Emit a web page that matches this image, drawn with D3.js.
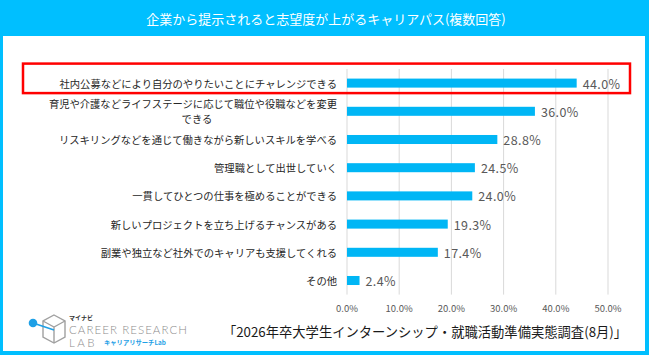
<!DOCTYPE html>
<html><head><meta charset="utf-8">
<script src="https://cdn.jsdelivr.net/npm/d3@7"></script>
<style>
html,body{margin:0;padding:0;background:#fff;}
svg{display:block;font-family:"Noto Sans CJK JP","Noto Sans",sans-serif;}
</style></head>
<body>
<svg id="chart" width="650" height="357"></svg>
<script>
const title = "企業から提示されると志望度が上がるキャリアパス(複数回答)";
const categories = [
  "社内公募などにより自分のやりたいことにチャレンジできる",
  "育児や介護などライフステージに応じて職位や役職などを変更\nできる",
  "リスキリングなどを通じて働きながら新しいスキルを学べる",
  "管理職として出世していく",
  "一貫してひとつの仕事を極めることができる",
  "新しいプロジェクトを立ち上げるチャンスがある",
  "副業や独立など社外でのキャリアも支援してくれる",
  "その他"
];
const values = [44.0, 36.0, 28.8, 24.5, 24.0, 19.3, 17.4, 2.4];
const tickValues = [0, 10, 20, 30, 40, 50];
const highlighted = ["社内公募などにより自分のやりたいことにチャレンジできる"];
const source = "「2026年卒大学生インターンシップ・就職活動準備実態調査(8月)」";

const svg = d3.select("#chart");
const frame = "#00BFFF", barColor = "#00B6F5";

// frame + title band
svg.append("rect").attr("x",0).attr("y",0).attr("width",649).attr("height",355).attr("fill",frame);
svg.append("rect").attr("x",3).attr("y",36).attr("width",642).attr("height",315).attr("fill","#fff");
svg.append("text").attr("x",326).attr("y",18.5).attr("text-anchor","middle").attr("dominant-baseline","central")
  .attr("fill","#fff").attr("font-size",13).text(title);

const x = d3.scaleLinear().domain([0,50]).range([347,608]);
const y = d3.scaleBand().domain(categories).range([69,294.6]).paddingInner(0.68).paddingOuter(0.34);

// gridlines
svg.append("g").selectAll("line").data(tickValues).join("line")
  .attr("x1",d=>x(d)).attr("x2",d=>x(d)).attr("y1",69).attr("y2",294.6)
  .attr("stroke","#d9d9d9").attr("stroke-width",1);

// tick labels
svg.append("g").selectAll("text").data(tickValues).join("text")
  .attr("x",d=>x(d)).attr("y",308).attr("text-anchor","middle").attr("dominant-baseline","central")
  .attr("font-size",9.5).attr("fill","#595959").text(d=>d.toFixed(1)+"%");

// bars
svg.append("g").selectAll("rect").data(categories).join("rect")
  .attr("x",x(0)).attr("y",d=>y(d)).attr("height",y.bandwidth())
  .attr("width",(d,i)=>x(values[i])-x(0)).attr("fill",barColor);

// value labels
svg.append("g").selectAll("text").data(categories).join("text")
  .attr("x",(d,i)=>x(values[i])+6).attr("y",d=>y(d)+y.bandwidth()/2)
  .attr("dominant-baseline","central").attr("font-size",12.5).attr("letter-spacing",0.4).attr("fill","#595959")
  .text((d,i)=>values[i].toFixed(1)+"%");

// category labels
const lab = svg.append("g").selectAll("g").data(categories).join("g");
lab.each(function(d){
  const g = d3.select(this);
  const lines = d.split("\n");
  const cy = y(d)+y.bandwidth()/2;
  const lh = 15;
  const t0 = g.append("text").attr("x",337).attr("y",cy-(lines.length-1)*lh/2)
    .attr("text-anchor","end").attr("dominant-baseline","central")
    .attr("font-size",10.3).attr("fill","#262626").text(lines[0]);
  if(lines.length>1){
    const w = t0.node().getComputedTextLength();
    g.append("text").attr("x",337-w/2+4).attr("y",cy+lh/2)
      .attr("text-anchor","middle").attr("dominant-baseline","central")
      .attr("font-size",10.3).attr("fill","#262626").text(lines[1]);
  }
});

// highlight box
highlighted.forEach(c=>{
  const cy = y(c)+y.bandwidth()/2;
  svg.append("rect").attr("x",23).attr("y",cy-19.5).attr("width",607).attr("height",29.5)
    .attr("fill","none").attr("stroke","#FF0000").attr("stroke-width",2.5);
});

// source
svg.append("text").attr("x",425).attr("y",331).attr("text-anchor","middle").attr("dominant-baseline","central")
  .attr("font-size",13.3).attr("fill","#1a1a1a").text(source);

// logo
const logo = svg.append("g");
const gray = "#a0a0a0";
const hx=54, hy=329;
const hex = [[hx,315],[hx+11,321],[hx+11,337],[hx,343],[hx-11,337],[hx-11,321]];
logo.append("path").attr("d","M"+hex.map(p=>p.join(",")).join("L")+"Z").attr("fill","none").attr("stroke",gray).attr("stroke-width",1.4);
logo.append("path").attr("d",`M${hx-11},321L${hx},327L${hx+11},321M${hx},327L${hx},343`).attr("fill","none").attr("stroke",gray).attr("stroke-width",1.4);
logo.append("line").attr("x1",33).attr("y1",323).attr("x2",hx).attr("y2",330).attr("stroke","#1ea0e6").attr("stroke-width",1.6);
logo.append("circle").attr("cx",33).attr("cy",323).attr("r",4.3).attr("fill","#1ea0e6");
logo.append("text").attr("x",69).attr("y",317.5).attr("font-size",6).attr("font-weight",700).attr("fill","#333").attr("dominant-baseline","central").text("マイナビ");
logo.append("text").attr("x",69).attr("y",329.5).attr("font-size",11.5).attr("font-weight",300).attr("fill","#8c8c8c")
  .attr("dominant-baseline","central").attr("font-family","Lato, sans-serif").attr("textLength",118).text("CAREER RESEARCH");
logo.append("text").attr("x",69).attr("y",342).attr("font-size",11.5).attr("font-weight",300).attr("fill","#8c8c8c")
  .attr("dominant-baseline","central").attr("font-family","Lato, sans-serif").attr("letter-spacing",2.5).text("LAB");
logo.append("text").attr("x",104).attr("y",342).attr("font-size",6.3).attr("font-weight",700).attr("fill","#1ea0e6")
  .attr("dominant-baseline","central").text("キャリアリサーチLab");
</script>
</body></html>
